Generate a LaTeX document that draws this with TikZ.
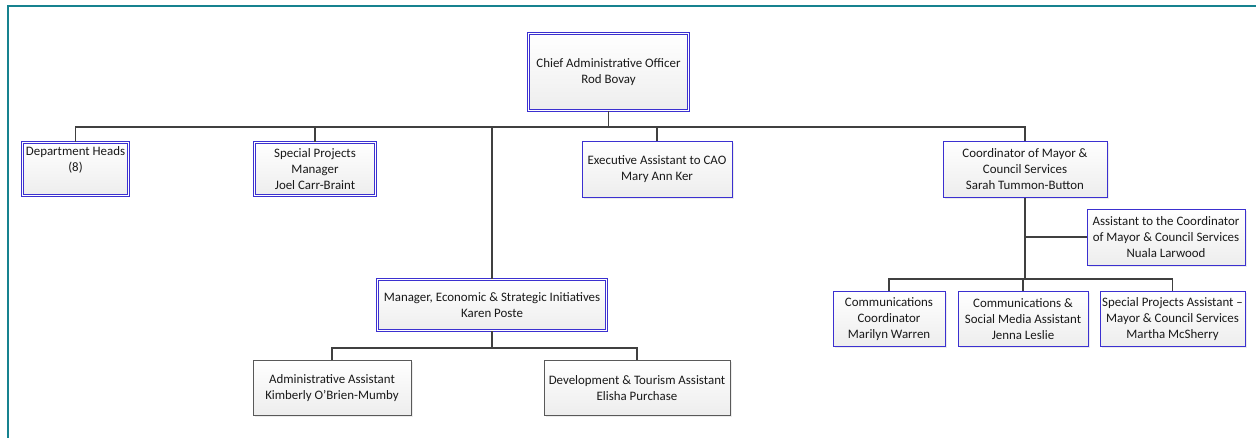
\documentclass[tikz,border=0pt]{standalone}
\usepackage{fontspec}
\setmainfont{Carlito}
\usepackage{xcolor}
\usetikzlibrary{shadows}
\definecolor{frameteal}{HTML}{16828F}
\definecolor{boxblue}{HTML}{3B30D0}
\definecolor{linkgray}{HTML}{404040}
\tikzset{
  box/.style={draw=boxblue, line width=1pt, top color=white, bottom color=gray!14,
    align=center, inner sep=2pt, font=\fontsize{12.9}{15.8}\selectfont, text=black!90,
    drop shadow={opacity=0.15, shadow xshift=1.5pt, shadow yshift=-1.5pt}},
  dbox/.style={box, double=white, double distance=1.2pt, line width=1pt},
  gbox/.style={box, draw=gray!70!black},
  link/.style={draw=linkgray, line width=1.7pt}
}
\begin{document}
\begin{tikzpicture}[x=1pt,y=-1pt]
\useasboundingbox (0,0) rectangle (1256,437);
\draw [frameteal, line width=2.2pt] (8,440) -- (8,6) -- (1258,6);
% top level
\node[dbox, minimum width=160pt, minimum height=77pt] (cao) at (608.5,72) {Chief Administrative Officer\\Rod Bovay};
\coordinate (bus) at (0,127);
\node[dbox, minimum width=106pt, minimum height=53pt] (dept) at (75.5,169) {Department Heads\\(8)\\\strut};
\node[dbox, minimum width=121pt, minimum height=53pt] (spm) at (315,169) {Special Projects\\Manager\\Joel Carr-Braint};
\node[box, minimum width=150pt, minimum height=56pt] (exec) at (657,169) {Executive Assistant to CAO\\Mary Ann Ker};
\node[box, minimum width=164pt, minimum height=56pt] (coord) at (1025,169) {Coordinator of Mayor \&\\Council Services\\Sarah Tummon-Button};
\draw[link] (cao.south) -- (cao.south |- bus);
\draw[link] (dept.north) -- (dept.north |- bus) -| (coord.north);
\draw[link] (spm.north) -- (spm.north |- bus);
\draw[link] (exec.north) -- (exec.north |- bus);
% mayor & council services
\node[box, minimum width=158pt, minimum height=56pt] (asst) at (1166,237) {Assistant to the Coordinator\\of Mayor \& Council Services\\Nuala Larwood};
\coordinate (bustwo) at (0,279);
\node[box, minimum width=112pt, minimum height=55pt] (comm) at (889,319) {Communications\\Coordinator\\Marilyn Warren};
\node[box, minimum width=130pt, minimum height=55pt] (social) at (1023,319) {Communications \&\\Social Media Assistant\\Jenna Leslie};
\node[box, minimum width=145pt, minimum height=55pt] (spa) at (1172.5,319) {Special Projects Assistant --\\Mayor \& Council Services\\Martha McSherry};
\draw[link] (coord.south) -- (coord.south |- bustwo);
\draw[link] (asst.west) -- (asst.west -| coord.south);
\draw[link] (comm.north) -- (comm.north |- bustwo) -| (spa.north);
\draw[link] (social.north) -- (social.north |- bustwo);
% economic & strategic initiatives
\node[dbox, minimum width=229pt, minimum height=51pt] (mesi) at (492,305) {Manager, Economic \& Strategic Initiatives\\Karen Poste};
\coordinate (busthree) at (0,348);
\node[gbox, minimum width=158pt, minimum height=55pt] (admin) at (332,388) {Administrative Assistant\\Kimberly O'Brien-Mumby};
\node[gbox, minimum width=186pt, minimum height=55pt] (dev) at (637,388) {Development \& Tourism Assistant\\Elisha Purchase};
\draw[link] (mesi.north) -- (mesi.north |- bus);
\draw[link] (mesi.south) -- (mesi.south |- busthree);
\draw[link] (admin.north) -- (admin.north |- busthree) -| (dev.north);
\end{tikzpicture}
\end{document}
